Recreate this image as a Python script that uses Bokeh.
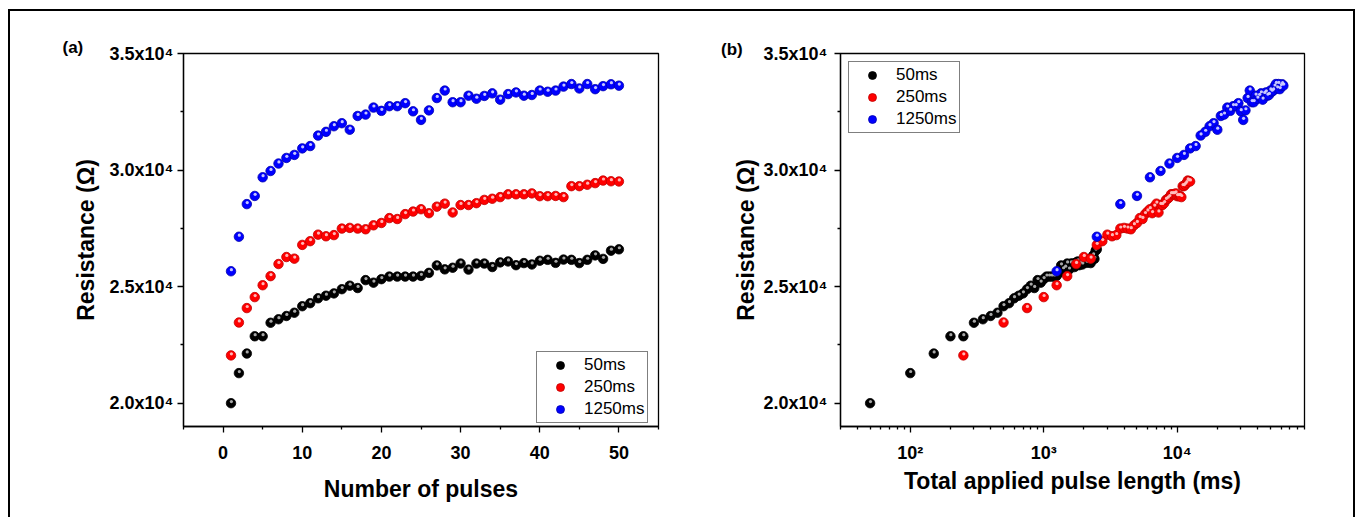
from bokeh.plotting import figure
from bokeh.layouts import row
from bokeh.models import (FixedTicker, Legend, LegendItem, Title, ColumnDataSource, Range1d)
from bokeh.embed import file_html
from bokeh.resources import INLINE

# ---------------- data ----------------
PULSE_NUMBER = list(range(1, 51))
SERIES_NAMES = ["50ms", "250ms", "1250ms"]
PULSE_LENGTHS_MS = [50, 250, 1250]

R_50MS = [20000, 21290, 22130, 22870, 22870, 23450, 23600, 23740, 23880, 24160,
          24290, 24500, 24610, 24710, 24890, 25040, 24940, 25280, 25170, 25320,
          25430, 25430, 25430, 25430, 25460, 25590, 25910, 25740, 25810, 25990,
          25730, 25990, 25990, 25840, 26040, 26080, 25920, 26010, 25950, 26110,
          26150, 26020, 26160, 26150, 26010, 26150, 26340, 26190, 26540, 26600]
R_250MS = [22050, 23460, 24080, 24550, 25060, 25450, 25970, 26270, 26200, 26790,
           26950, 27230, 27160, 27210, 27490, 27520, 27490, 27460, 27630, 27730,
           27940, 27900, 28110, 28220, 28320, 28150, 28430, 28560, 28180, 28500,
           28500, 28580, 28720, 28770, 28840, 28960, 28960, 28960, 29000, 28880,
           28880, 28890, 28840, 29310, 29310, 29370, 29440, 29550, 29520, 29510]
R_1250MS = [25660, 27140, 28540, 28890, 29690, 29960, 30280, 30520, 30650, 30930,
            31030, 31480, 31640, 31880, 32010, 31730, 32320, 32380, 32680, 32540,
            32740, 32740, 32870, 32520, 32150, 32560, 33090, 33410, 32910, 32910,
            33190, 33060, 33180, 33290, 33020, 33260, 33330, 33190, 33220, 33410,
            33360, 33410, 33580, 33690, 33500, 33690, 33470, 33600, 33680, 33620]
SERIES_VALUES = [R_50MS, R_250MS, R_1250MS]

Y_TICKS = [20000, 25000, 30000, 35000]
Y_MINOR_TICKS = [22500, 27500, 32500]
Y_TICK_LABELS = ["2.0x10\u2074", "2.5x10\u2074", "3.0x10\u2074", "3.5x10\u2074"]
XA_TICKS = [0, 10, 20, 30, 40, 50]
XA_MINOR_TICKS = [-5, 5, 15, 25, 35, 45, 55]
XB_TICKS = [100, 1000, 10000]
XB_TICK_LABELS = ["10\u00b2", "10\u00b3", "10\u2074"]
XB_MINOR_TICKS = [30, 40, 50, 60, 70, 80, 90,
                  200, 300, 400, 500, 600, 700, 800, 900,
                  2000, 3000, 4000, 5000, 6000, 7000, 8000, 9000,
                  20000, 30000, 40000, 50000, 60000, 70000, 80000, 90000]
PANEL_TAGS = ["(a)", "(b)"]

# ---------------- styles ----------------
FONT = "Liberation Sans"
STYLE = {
    "50ms": dict(fill="#000000", edge="#000000", hi="#b0b0b0"),
    "250ms": dict(fill="#ff0000", edge="#c00000", hi="#ffc0c0"),
    "1250ms": dict(fill="#0000ff", edge="#0000b0", hi="#d0d0ff"),
}
Y_START, Y_END = 19000, 35000


def style_axes(p, label_standoff_y, tick_standoff_y, axis_label_standoff_x, tick_standoff_x):
    p.grid.visible = False
    p.outline_line_color = "black"
    p.outline_line_width = 1.3
    p.background_fill_color = "white"
    p.border_fill_color = "white"
    for ax in (p.xaxis[0], p.yaxis[0]):
        ax.axis_line_color = "black"
        ax.axis_line_width = 1.3
        ax.major_tick_line_color = "black"
        ax.major_tick_line_width = 1.3
        ax.minor_tick_line_color = "black"
        ax.minor_tick_line_width = 1.3
        ax.major_tick_in = 0
        ax.major_tick_out = 6
        ax.minor_tick_in = 0
        ax.minor_tick_out = 3
        ax.major_label_text_font = FONT
        ax.major_label_text_font_style = "bold"
        ax.major_label_text_font_size = "18px"
        ax.major_label_text_color = "black"
        ax.axis_label_text_font = FONT
        ax.axis_label_text_font_style = "bold"
        ax.axis_label_text_font_size = "23px"
        ax.axis_label_text_color = "black"
    p.yaxis[0].axis_label_standoff = label_standoff_y
    p.yaxis[0].major_label_standoff = tick_standoff_y
    p.xaxis[0].axis_label_standoff = axis_label_standoff_x
    p.xaxis[0].major_label_standoff = tick_standoff_x
    p.yaxis[0].ticker = FixedTicker(ticks=Y_TICKS, minor_ticks=Y_MINOR_TICKS)
    p.yaxis[0].major_label_overrides = {float(t): s for t, s in zip(Y_TICKS, Y_TICK_LABELS)}
    p.yaxis[0].major_label_orientation = "horizontal"


def add_balls(p, xs, ys, st, hx_fn, dy):
    src = ColumnDataSource(dict(x=xs, y=ys))
    r = p.scatter("x", "y", source=src, size=9.5, fill_color=st["fill"],
                  line_color=st["edge"], line_width=0.8)
    hsrc = ColumnDataSource(dict(x=[hx_fn(v) for v in xs], y=[v + dy for v in ys]))
    p.scatter("x", "y", source=hsrc, size=3.2, fill_color=st["hi"], line_color=None,
              fill_alpha=0.95)
    return r


def make_legend(renderers, loc):
    items = [LegendItem(label=n, renderers=[r]) for n, r in zip(SERIES_NAMES, renderers)]
    return Legend(items=items, location=loc, border_line_color="black",
                  border_line_width=1, padding=3, spacing=2, label_height=20,
                  glyph_height=20, glyph_width=40, label_standoff=4, margin=0,
                  label_text_font=FONT, label_text_font_size="17px",
                  label_text_color="black", background_fill_color="white",
                  background_fill_alpha=1)


def tag_title(text, offset, standoff):
    return Title(text=text, align="left", offset=offset, vertical_align="bottom",
                 standoff=standoff, text_font=FONT, text_font_style="bold",
                 text_font_size="17px", text_color="black")


# ---------------- panel (a) ----------------
p1 = figure(width=670, height=506, output_backend="svg", toolbar_location=None,
            x_range=Range1d(-5, 55), y_range=Range1d(Y_START, Y_END),
            min_border_left=173, min_border_right=22, min_border_top=38,
            min_border_bottom=87, title=tag_title(PANEL_TAGS[0], -121, -6))
style_axes(p1, 8, 4, 14, 13)
p1.xaxis[0].ticker = FixedTicker(ticks=XA_TICKS, minor_ticks=XA_MINOR_TICKS)
p1.xaxis[0].axis_label = "Number of pulses"
p1.yaxis[0].axis_label = "Resistance (\u03a9)"

frame_w1, frame_h1 = 475.0, 381.0
px_x1 = 60 / frame_w1
px_y1 = (Y_END - Y_START) / frame_h1
rs1 = []
for name, vals in zip(SERIES_NAMES, SERIES_VALUES):
    rs1.append(add_balls(p1, PULSE_NUMBER, vals, STYLE[name],
                         lambda v: v + 0.4 * px_x1, 1.6 * px_y1))
p1.add_layout(make_legend(rs1, (353, 3)))

# ---------------- panel (b) ----------------
p2 = figure(width=673, height=506, output_backend="svg", toolbar_location=None,
            x_axis_type="log", x_range=Range1d(30, 90000), y_range=Range1d(Y_START, Y_END),
            min_border_left=160, min_border_right=49, min_border_top=42,
            min_border_bottom=91, title=tag_title(PANEL_TAGS[1], -119.5, -10))
style_axes(p2, 2, 7, 2, 10)
p2.xaxis[0].ticker = FixedTicker(ticks=XB_TICKS, minor_ticks=XB_MINOR_TICKS)
p2.xaxis[0].major_label_overrides = {float(t): s for t, s in zip(XB_TICKS, XB_TICK_LABELS)}
p2.xaxis[0].axis_label = "Total applied pulse length (ms)"
p2.yaxis[0].axis_label = "Resistance (\u03a9)"

frame_h2 = 372.7
px_y2 = (Y_END - Y_START) / frame_h2
decade_px = 133.4
rs2 = []
for name, pl, vals in zip(SERIES_NAMES, PULSE_LENGTHS_MS, SERIES_VALUES):
    total = [n * pl for n in PULSE_NUMBER]
    rs2.append(add_balls(p2, total, vals, STYLE[name],
                         lambda v: v * 10 ** (0.4 / decade_px), 1.6 * px_y2))
p2.add_layout(make_legend(rs2, (8, 293)))

layout = row(p1, p2, margin=(9, 0, 0, 8),
             styles={"border-top": "2px solid black", "border-left": "2px solid black",
                     "border-right": "2px solid black"})

open("out.html", "w").write(file_html(layout, INLINE))
